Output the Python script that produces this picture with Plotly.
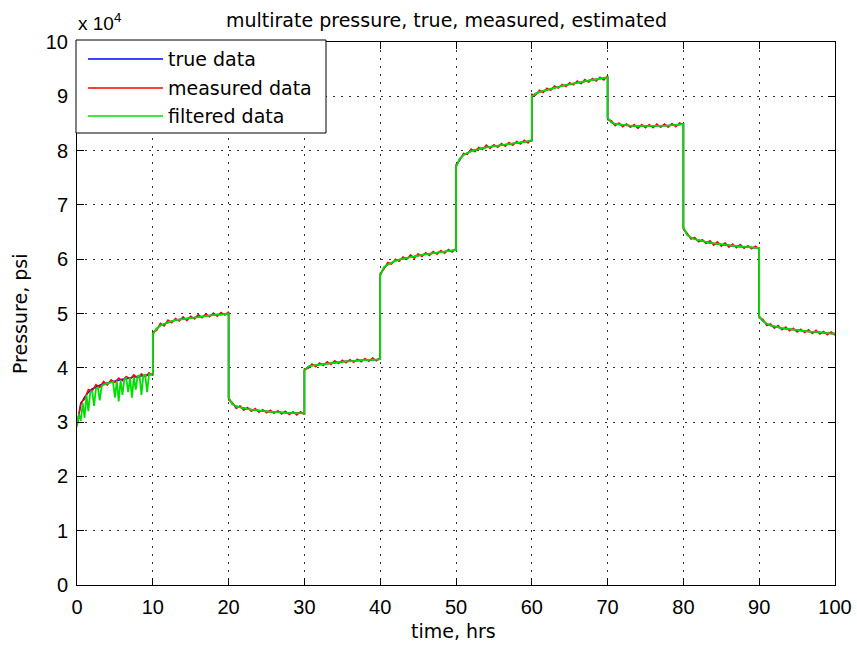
import numpy as np
import plotly.graph_objects as go

# ---------------- data (pressure in units of 1e4 psi) ----------------
segment_start_hrs = [0, 10, 20, 30, 40, 50, 60, 70, 80, 90]
segment_offsets_hrs = np.arange(0, 10.5, 0.5)  # 0, 0.5, ..., 10

true_segments = [
    [2.95, 3.33, 3.46, 3.55, 3.61, 3.65, 3.68, 3.70, 3.72, 3.74, 3.76, 3.77, 3.79, 3.80, 3.82, 3.83, 3.84, 3.85, 3.86, 3.87, 3.88],
    [4.62, 4.72, 4.78, 4.81, 4.84, 4.86, 4.88, 4.89, 4.90, 4.91, 4.92, 4.93, 4.94, 4.95, 4.96, 4.96, 4.97, 4.98, 4.98, 4.99, 5.00],
    [3.45, 3.33, 3.29, 3.27, 3.25, 3.24, 3.23, 3.22, 3.21, 3.20, 3.20, 3.19, 3.19, 3.18, 3.18, 3.17, 3.17, 3.17, 3.16, 3.16, 3.16],
    [3.95, 4.02, 4.04, 4.05, 4.06, 4.07, 4.08, 4.09, 4.10, 4.10, 4.11, 4.12, 4.12, 4.13, 4.13, 4.14, 4.14, 4.15, 4.15, 4.15, 4.16],
    [5.70, 5.85, 5.90, 5.94, 5.97, 5.99, 6.01, 6.03, 6.04, 6.05, 6.07, 6.08, 6.09, 6.10, 6.11, 6.12, 6.13, 6.14, 6.15, 6.16, 6.17],
    [7.70, 7.85, 7.92, 7.96, 7.99, 8.01, 8.03, 8.05, 8.06, 8.07, 8.08, 8.09, 8.10, 8.11, 8.12, 8.13, 8.14, 8.15, 8.16, 8.17, 8.18],
    [9.00, 9.05, 9.08, 9.10, 9.12, 9.14, 9.16, 9.18, 9.19, 9.21, 9.22, 9.24, 9.25, 9.26, 9.28, 9.29, 9.30, 9.31, 9.32, 9.33, 9.35],
    [8.60, 8.52, 8.49, 8.48, 8.47, 8.46, 8.46, 8.45, 8.45, 8.45, 8.45, 8.45, 8.45, 8.45, 8.46, 8.46, 8.46, 8.47, 8.47, 8.48, 8.49],
    [6.58, 6.45, 6.40, 6.37, 6.35, 6.33, 6.32, 6.30, 6.29, 6.28, 6.27, 6.26, 6.25, 6.25, 6.24, 6.23, 6.23, 6.22, 6.22, 6.21, 6.21],
    [4.95, 4.86, 4.81, 4.78, 4.76, 4.75, 4.73, 4.72, 4.71, 4.70, 4.69, 4.68, 4.68, 4.67, 4.66, 4.66, 4.65, 4.64, 4.64, 4.63, 4.63],
]

measured_segments = [
    [2.92, 3.36, 3.42, 3.60, 3.57, 3.69, 3.64, 3.75, 3.68, 3.78, 3.73, 3.81, 3.76, 3.84, 3.79, 3.87, 3.81, 3.89, 3.83, 3.91, 3.86],
    [4.66, 4.69, 4.82, 4.77, 4.88, 4.83, 4.91, 4.86, 4.94, 4.87, 4.95, 4.90, 4.98, 4.92, 4.99, 4.94, 5.01, 4.95, 5.02, 4.97, 5.03],
    [3.41, 3.36, 3.25, 3.30, 3.22, 3.27, 3.20, 3.25, 3.18, 3.23, 3.17, 3.22, 3.16, 3.21, 3.15, 3.20, 3.14, 3.19, 3.13, 3.19, 3.14],
    [3.98, 3.99, 4.07, 4.02, 4.09, 4.04, 4.11, 4.06, 4.13, 4.08, 4.14, 4.09, 4.15, 4.10, 4.16, 4.11, 4.17, 4.12, 4.18, 4.13, 4.19],
    [5.74, 5.82, 5.94, 5.91, 6.00, 5.96, 6.04, 6.00, 6.08, 6.02, 6.10, 6.05, 6.12, 6.07, 6.14, 6.09, 6.16, 6.11, 6.18, 6.13, 6.20],
    [7.74, 7.82, 7.95, 7.93, 8.03, 7.98, 8.06, 8.02, 8.10, 8.04, 8.11, 8.06, 8.13, 8.08, 8.15, 8.10, 8.17, 8.12, 8.19, 8.14, 8.21],
    [9.04, 9.02, 9.11, 9.07, 9.15, 9.11, 9.19, 9.15, 9.22, 9.18, 9.25, 9.21, 9.28, 9.23, 9.31, 9.26, 9.33, 9.28, 9.35, 9.30, 9.38],
    [8.57, 8.55, 8.46, 8.51, 8.44, 8.49, 8.43, 8.48, 8.41, 8.48, 8.42, 8.48, 8.42, 8.49, 8.43, 8.49, 8.43, 8.50, 8.44, 8.51, 8.47],
    [6.55, 6.48, 6.37, 6.40, 6.32, 6.36, 6.29, 6.34, 6.26, 6.32, 6.24, 6.30, 6.22, 6.28, 6.21, 6.27, 6.20, 6.25, 6.19, 6.24, 6.19],
    [4.92, 4.89, 4.78, 4.81, 4.73, 4.78, 4.70, 4.75, 4.68, 4.73, 4.66, 4.71, 4.65, 4.70, 4.63, 4.69, 4.62, 4.67, 4.61, 4.66, 4.60],
]

# filtered estimate during the first period (noisy start-up), sampled every 0.25 h
filtered_first_offsets_hrs = np.arange(0, 10.25, 0.25)
filtered_first_segment = [
    2.92, 3.15, 3.02, 3.35, 3.08, 3.50, 3.20, 3.55, 3.58, 3.30, 3.62, 3.64, 3.40, 3.66, 3.69, 3.70, 3.71,
    3.72, 3.73, 3.74, 3.45, 3.76, 3.38, 3.77, 3.50, 3.79, 3.80, 3.55, 3.82, 3.45, 3.83, 3.60, 3.85, 3.86,
    3.50, 3.86, 3.87, 3.55, 3.88, 3.88, 3.89,
]

x_tick_vals = [0, 10, 20, 30, 40, 50, 60, 70, 80, 90, 100]
y_tick_vals = [0, 1, 2, 3, 4, 5, 6, 7, 8, 9, 10]

# ---------------- assemble series ----------------
t_true, p_true, t_meas, p_meas = [], [], [], []
for start, tv, mv in zip(segment_start_hrs, true_segments, measured_segments):
    t_seg = [start + o for o in segment_offsets_hrs]
    t_true += t_seg
    p_true += tv
    t_meas += t_seg
    p_meas += mv

t_filt = [segment_start_hrs[0] + o for o in filtered_first_offsets_hrs]
p_filt = list(filtered_first_segment)
for start, tv in zip(segment_start_hrs[1:], true_segments[1:]):
    t_filt += [start + o for o in segment_offsets_hrs]
    p_filt += tv

BLUE, RED, GREEN = "#0000ff", "#ff0000", "#00e000"
TXT = "DejaVu Sans"
TICK = "Liberation Sans, Arial"

fig = go.Figure()
fig.add_trace(go.Scatter(x=t_true, y=p_true, mode="lines", name="true data",
                         line=dict(color=BLUE, width=1.5), showlegend=False))
fig.add_trace(go.Scatter(x=t_meas, y=p_meas, mode="lines", name="measured data",
                         line=dict(color=RED, width=1.5), showlegend=False))
fig.add_trace(go.Scatter(x=t_filt, y=p_filt, mode="lines", name="filtered data",
                         line=dict(color=GREEN, width=1.8), showlegend=False))

L, R, T, B = 77, 22, 42, 60
W, H = 857, 645
pw, ph = W - L - R, H - T - B


def px(x):
    return (x - L) / pw


def py(y):
    return (H - B - y) / ph


axis_common = dict(
    showline=True, linecolor="black", linewidth=1, mirror="ticks",
    ticks="inside", ticklen=7, tickcolor="black", tickwidth=1,
    showgrid=True, gridcolor="#333333", gridwidth=1, griddash="2px,6px",
    zeroline=False, tickfont=dict(family=TICK, size=20, color="black"),
    automargin=False, ticklabelstandoff=4,
)

fig.update_layout(
    width=W, height=H,
    margin=dict(l=L, r=R, t=T, b=B, autoexpand=False),
    paper_bgcolor="white", plot_bgcolor="white",
    xaxis=dict(range=[0, 100], tickvals=x_tick_vals, ticktext=[str(v) for v in x_tick_vals], **axis_common),
    yaxis=dict(range=[0, 10], tickvals=y_tick_vals, ticktext=[str(v) for v in y_tick_vals], **axis_common),
    showlegend=False,
)

# axis titles, title and exponent label
fig.add_annotation(text="time, hrs", xref="paper", yref="paper", x=px(453), y=py(631),
                   xanchor="center", yanchor="middle", showarrow=False,
                   font=dict(family=TXT, size=19, color="black"))
fig.add_annotation(text="Pressure, psi", xref="paper", yref="paper", x=px(20), y=py(314),
                   xanchor="center", yanchor="middle", textangle=-90, showarrow=False,
                   font=dict(family=TXT, size=19, color="black"))
fig.add_annotation(text="multirate pressure, true, measured, estimated", xref="paper", yref="paper",
                   x=px(446), y=py(20), xanchor="center", yanchor="middle", showarrow=False,
                   font=dict(family=TXT, size=19, color="black"))
fig.add_annotation(text="x 10<sup>4</sup>", xref="paper", yref="paper",
                   x=px(76), y=py(36), xanchor="left", yanchor="bottom", showarrow=False,
                   font=dict(family=TICK, size=19, color="black"))

# legend box (MATLAB style)
fig.add_shape(type="rect", xref="paper", yref="paper", x0=px(76), x1=px(326), y0=py(133), y1=py(40),
              line=dict(color="black", width=1), fillcolor="white", layer="above")
for name, color, yy in [("true data", BLUE, 59), ("measured data", RED, 88), ("filtered data", GREEN, 116)]:
    fig.add_shape(type="line", xref="paper", yref="paper", x0=px(88), x1=px(163), y0=py(yy), y1=py(yy),
                  line=dict(color=color, width=1.5), layer="above")
    fig.add_annotation(text=name, xref="paper", yref="paper", x=px(166), y=py(yy), xanchor="left",
                       yanchor="middle", showarrow=False, font=dict(family=TXT, size=19, color="black"))

fig.write_html("out.html")
